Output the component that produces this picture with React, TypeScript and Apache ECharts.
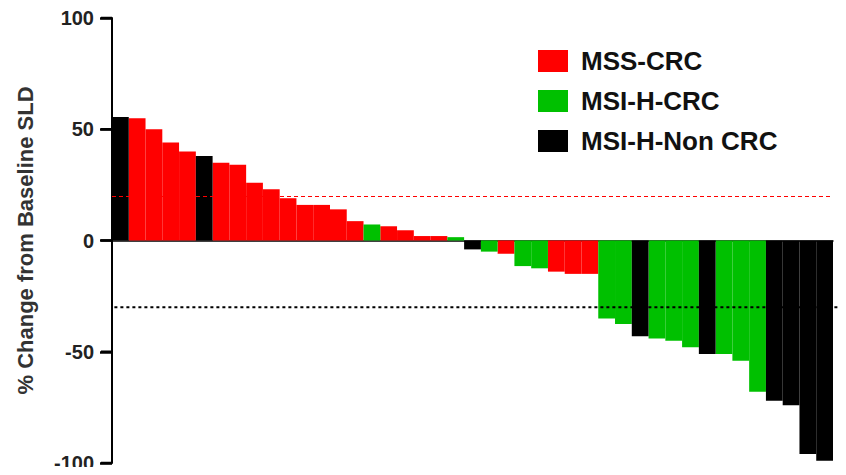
import React, { useEffect, useRef } from "react";
import * as echarts from "echarts";

// % change from baseline SLD per patient, sorted (waterfall)
const values: number[] = [
  55.5, 55, 50, 44, 40, 38, 35, 34, 26, 23, 19, 16, 16, 14, 8.7, 7.2, 6.4, 4.6, 2, 2, 1.5,
  -4, -5, -6, -11.5, -12.5, -14, -15, -15, -35, -37.5, -43, -44, -45, -48, -51, -51, -54,
  -68, -72, -74, -96, -99,
];
// 0 = MSS-CRC, 1 = MSI-H-CRC, 2 = MSI-H-Non CRC
const groups: number[] = [
  2, 0, 0, 0, 0, 2, 0, 0, 0, 0, 0, 0, 0, 0, 0, 1, 0, 0, 0, 0, 1,
  2, 1, 0, 1, 1, 0, 0, 0, 1, 1, 2, 1, 1, 1, 2, 1, 1,
  1, 2, 2, 2, 2,
];
const groupNames: string[] = ["MSS-CRC", "MSI-H-CRC", "MSI-H-Non CRC"];
const groupColors: string[] = ["#ff0000", "#00c000", "#000000"];
const yTicks = { min: -100, max: 100, interval: 50 };
const yTickValues: number[] = [-100, -50, 0, 50, 100];
const progressionLine = 20;
const responseLine = -30;

const categories = values.map((_, i) => `P${i + 1}`);

export default function App() {
  const ref = useRef<HTMLDivElement>(null);
  useEffect(() => {
    if (!ref.current) return;
    const chart = echarts.init(ref.current, null, { renderer: "svg" });
    const font = "'Liberation Sans', Arial, sans-serif";
    const series: any[] = groupNames.map((name, g) => ({
      name,
      type: "bar",
      barGap: "-100%",
      barCategoryGap: "0%",
      itemStyle: { color: groupColors[g] },
      data: values.map((v, i) => (groups[i] === g ? v : "-")),
    }));
    series[0].markLine = {
      silent: true,
      symbol: "none",
      label: { show: false },
      lineStyle: { color: "#ff0000", width: 1, type: [4, 3] },
      data: [{ yAxis: progressionLine }],
      z: 10,
    };
    chart.setOption({
      animation: false,
      grid: { left: 112, right: 13, top: 18, bottom: 12 },
      legend: {
        orient: "vertical",
        left: 533,
        top: 43,
        itemWidth: 30,
        itemHeight: 22,
        itemGap: 14,
        icon: "rect",
        textStyle: {
          fontSize: 26,
          fontWeight: "bold",
          fontFamily: font,
          color: "#111",
          padding: [0, 0, 0, 8],
        },
        data: groupNames,
      },
      xAxis: {
        type: "category",
        data: categories,
        axisLine: { onZero: true, lineStyle: { color: "#000", width: 1.5 } },
        axisTick: { show: false },
        axisLabel: { show: false },
        splitLine: { show: false },
      },
      yAxis: {
        type: "value",
        min: yTicks.min,
        max: yTicks.max,
        interval: yTicks.interval,
        name: "% Change from Baseline SLD",
        nameLocation: "middle",
        nameGap: 76,
        nameTextStyle: { fontSize: 22, fontWeight: "bold", fontFamily: font, color: "#333" },
        axisLine: { show: true, lineStyle: { color: "#000", width: 2 } },
        axisTick: { show: true, inside: false, length: 12, lineStyle: { color: "#000", width: 2.5 } },
        axisLabel: { fontSize: 20, fontWeight: "bold", fontFamily: font, color: "#222", margin: 18 },
        splitLine: { show: false },
      },
      series,
    });
    const y = chart.convertToPixel({ yAxisIndex: 0 }, responseLine) as number;
    const x0 = chart.convertToPixel({ xAxisIndex: 0 }, categories[0]) as number;
    const width = chart.getWidth();
    const axisX = 112;
    const tickGraphics = yTickValues.map((v) => {
      const ty = chart.convertToPixel({ yAxisIndex: 0 }, v) as number;
      return {
        type: "line",
        silent: true,
        z: 100,
        shape: { x1: axisX - 11, y1: ty, x2: axisX, y2: ty },
        style: { stroke: "#000", lineWidth: 2.5 },
      };
    });
    chart.setOption({
      graphic: [
        {
          type: "line",
          silent: true,
          z: 100,
          shape: { x1: x0 - 6, y1: y, x2: width, y2: y },
          style: { stroke: "#000", lineWidth: 2, lineDash: [3, 3] },
        },
        ...tickGraphics,
      ],
    });
    return () => chart.dispose();
  }, []);
  return <div ref={ref} style={{ width: 846, height: 475, margin: -8 }} />;
}
